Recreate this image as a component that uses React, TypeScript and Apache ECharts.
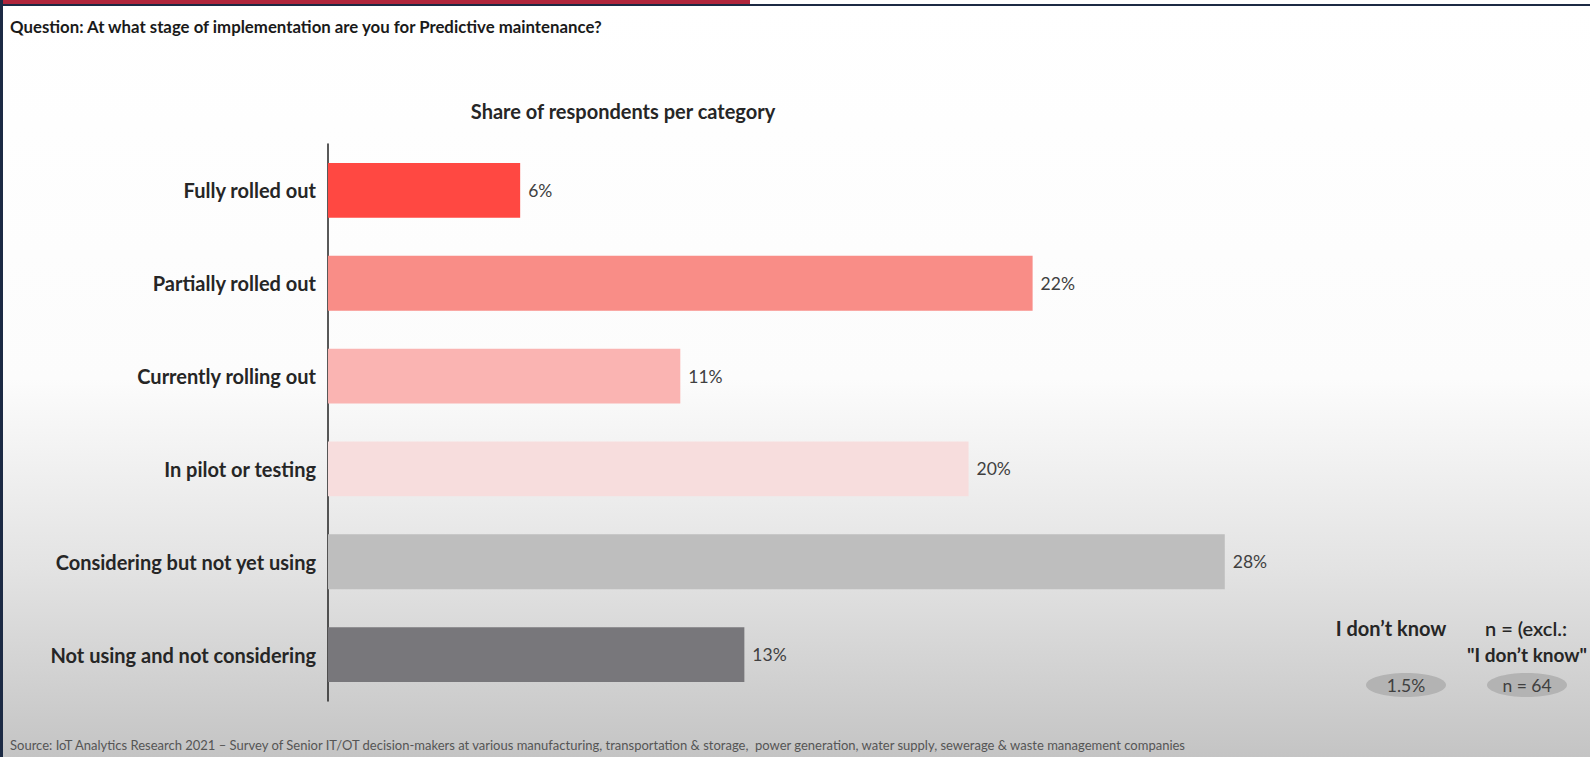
import React, { useEffect, useRef } from "react";
import * as echarts from "echarts";

const questionText = "Question: At what stage of implementation are you for Predictive maintenance?";
const chartTitle = "Share of respondents per category";
const categories = [
  "Fully rolled out",
  "Partially rolled out",
  "Currently rolling out",
  "In pilot or testing",
  "Considering but not yet using",
  "Not using and not considering",
];
const shares = [6, 22, 11, 20, 28, 13];
const barColors = ["#ff4842", "#f98d87", "#fab4b2", "#f7dddd", "#bebebe", "#78777b"];
const dontKnowLabel = "I don\u2019t know";
const dontKnowValue = "1.5%";
const sampleLabel1 = "n = (excl.:";
const sampleLabel2 = "\"I don\u2019t know\"";
const sampleValue = "n = 64";
const sourceText =
  "Source: IoT Analytics Research 2021 \u2013 Survey of Senior IT/OT decision-makers at various manufacturing, transportation & storage,  power generation, water supply, sewerage & waste management companies";

const FONT = "Lato, 'Open Sans', sans-serif";

export default function App() {
  const ref = useRef<HTMLDivElement>(null);
  useEffect(() => {
    if (!ref.current) return;
    const chart = echarts.init(ref.current, null, { renderer: "svg" });
    chart.setOption({
      animation: false,
      backgroundColor: new echarts.graphic.LinearGradient(0, 0, 0, 1, [
        { offset: 0, color: "#ffffff" },
        { offset: 0.5, color: "#fcfcfc" },
        { offset: 0.75, color: "#e3e3e3" },
        { offset: 1, color: "#c4c4c4" },
      ]),
      textStyle: { fontFamily: FONT },
      grid: { left: 328, top: 144, width: 1153, height: 557, containLabel: false },
      xAxis: {
        type: "value",
        min: 0,
        max: 36,
        show: false,
      },
      yAxis: {
        type: "category",
        data: categories,
        inverse: true,
        axisLine: { show: true, lineStyle: { color: "#222", width: 1.5 } },
        axisTick: { show: false },
        axisLabel: {
          margin: 12,
          fontSize: 20,
          fontWeight: 700,
          color: "#262626",
          fontFamily: FONT,
        },
      },
      series: [
        {
          type: "bar",
          data: shares.map((v, i) => ({ value: v, itemStyle: { color: barColors[i] } })),
          barWidth: "59%",
          label: {
            show: true,
            position: "right",
            distance: 8,
            formatter: "{c}%",
            fontSize: 17.5,
            color: "#404040",
            fontFamily: FONT,
          },
        },
      ],
      graphic: [
        { type: "rect", shape: { x: 0, y: 0, width: 750, height: 4 }, style: { fill: "#b0263c" } },
        { type: "rect", shape: { x: 0, y: 4, width: 1590, height: 2 }, style: { fill: "#1c2a44" } },
        { type: "rect", shape: { x: 0, y: 0, width: 3, height: 757 }, style: { fill: "#1c2a44" } },
        {
          type: "text",
          x: 10,
          y: 26,
          style: { text: questionText, fontSize: 16.8, fontWeight: 700, fill: "#1a1a1a", fontFamily: FONT, verticalAlign: "middle" },
        },
        {
          type: "text",
          x: 623,
          y: 111,
          style: { text: chartTitle, fontSize: 20, fontWeight: 700, fill: "#262626", fontFamily: FONT, align: "center", verticalAlign: "middle" },
        },
        {
          type: "text",
          x: 1391,
          y: 628,
          style: { text: dontKnowLabel, fontSize: 20, fontWeight: 700, fill: "#262626", fontFamily: FONT, align: "center", verticalAlign: "middle" },
        },
        {
          type: "text",
          x: 1526,
          y: 628,
          style: { text: sampleLabel1, fontSize: 20, fontWeight: 600, fill: "#262626", fontFamily: FONT, align: "center", verticalAlign: "middle" },
        },
        {
          type: "text",
          x: 1527,
          y: 654,
          style: { text: sampleLabel2, fontSize: 19, fontWeight: 700, fill: "#262626", fontFamily: FONT, align: "center", verticalAlign: "middle" },
        },
        { type: "ellipse", shape: { cx: 1406, cy: 685, rx: 40, ry: 12 }, style: { fill: "#b3b3b3" } },
        { type: "ellipse", shape: { cx: 1527, cy: 685, rx: 40, ry: 12 }, style: { fill: "#b3b3b3" } },
        {
          type: "text",
          x: 1406,
          y: 685,
          style: { text: dontKnowValue, fontSize: 17.5, fill: "#404040", fontFamily: FONT, align: "center", verticalAlign: "middle" },
        },
        {
          type: "text",
          x: 1527,
          y: 685,
          style: { text: sampleValue, fontSize: 17.5, fill: "#404040", fontFamily: FONT, align: "center", verticalAlign: "middle" },
        },
        {
          type: "text",
          x: 10,
          y: 745,
          style: { text: sourceText, fontSize: 13, fill: "#555555", fontFamily: FONT, verticalAlign: "middle" },
        },
      ],
    });
    return () => chart.dispose();
  }, []);
  return <div ref={ref} style={{ position: "absolute", left: 0, top: 0, width: 1590, height: 757 }} />;
}
